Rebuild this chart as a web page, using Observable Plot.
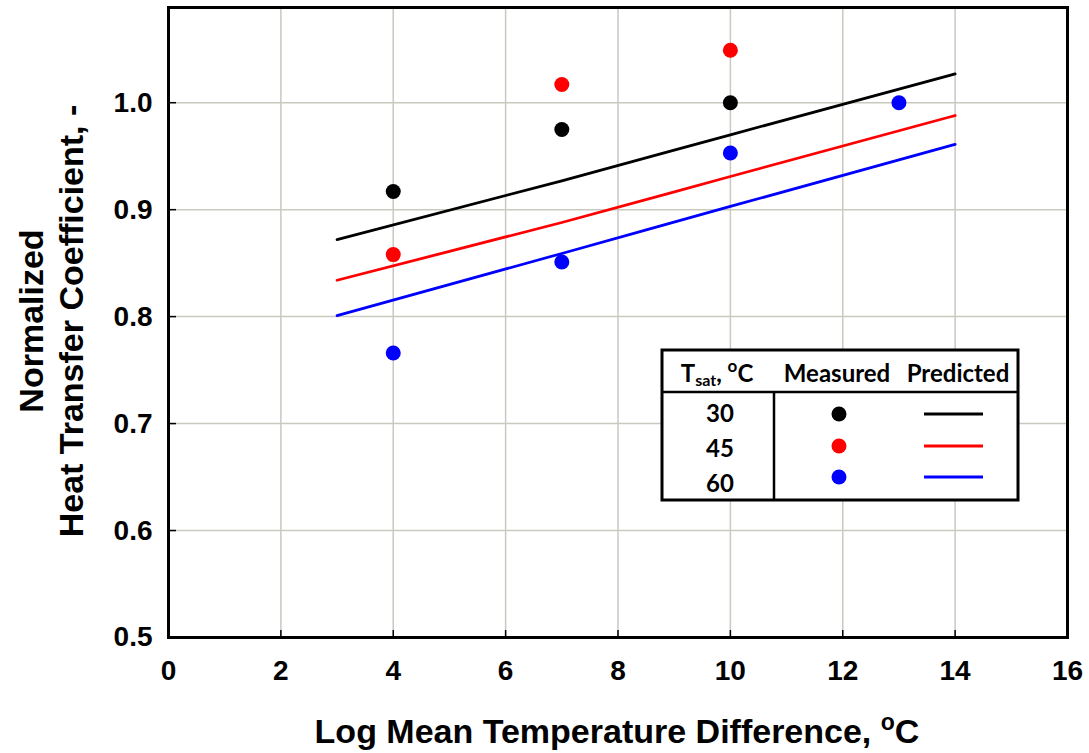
<!DOCTYPE html>
<html><head><meta charset="utf-8">
<script src="https://cdn.jsdelivr.net/npm/d3@7"></script>
<script src="https://cdn.jsdelivr.net/npm/@observablehq/plot@0.6"></script>
<style>
html,body{margin:0;padding:0;background:#fff;}
#chart{position:relative;width:1089px;height:753px;}
</style>
</head><body><div id="chart"></div>
<script>
// Data
const tsatLabels = ["30", "45", "60"];
const seriesColors = ["#000000", "#ff0000", "#0000ff"];
const lmtd30 = [4, 7, 10];
const h30 = [0.917, 0.975, 1.0];
const lmtd45 = [4, 7, 10];
const h45 = [0.858, 1.017, 1.049];
const lmtd60 = [4, 7, 10, 13];
const h60 = [0.766, 0.851, 0.953, 1.0];
const predX = [3, 7, 10, 14];
const pred30 = [0.872, 0.927, 0.970, 1.027];
const pred45 = [0.834, 0.888, 0.931, 0.988];
const pred60 = [0.801, 0.859, 0.903, 0.961];
const xTicks = [0, 2, 4, 6, 8, 10, 12, 14, 16];
const yTicks = [0.5, 0.6, 0.7, 0.8, 0.9, 1.0];

const measuredX = [lmtd30, lmtd45, lmtd60];
const measuredY = [h30, h45, h60];
const predY = [pred30, pred45, pred60];

const measured = [];
measuredX.forEach((xs, i) => xs.forEach((x, j) => measured.push({x, y: measuredY[i][j], s: tsatLabels[i]})));
const predicted = [];
predY.forEach((ys, i) => ys.forEach((y, j) => predicted.push({x: predX[j], y, s: tsatLabels[i]})));

const gridColor = "#c9c9c0";
const font = "'Liberation Sans', Arial, sans-serif";

const plot = Plot.plot({
  width: 1089,
  height: 753,
  marginLeft: 168,
  marginRight: 22,
  marginTop: 7,
  marginBottom: 116,
  style: {fontFamily: font, background: "#fff", overflow: "visible"},
  x: {domain: [0, 16]},
  y: {domain: [0.5, 1.089]},
  color: {domain: tsatLabels, range: seriesColors},
  marks: [
    Plot.gridX(xTicks.slice(1, -1), {stroke: gridColor, strokeOpacity: 1, strokeWidth: 1.5}),
    Plot.gridY(yTicks.slice(1), {stroke: gridColor, strokeOpacity: 1, strokeWidth: 1.5}),
    Plot.axisX(xTicks, {tickSize: -7, tickPadding: 30, fontSize: 28, fontWeight: "bold", fill: "#000", label: null, strokeWidth: 1.5}),
    Plot.axisY(yTicks, {tickSize: -8, tickPadding: 24, fontSize: 28, fontWeight: "bold", fill: "#000", label: null, strokeWidth: 1.5, tickFormat: d3.format(".1f")}),
    Plot.line(predicted, {x: "x", y: "y", z: "s", stroke: "s", strokeWidth: 2.8, curve: "monotone-x"}),
    Plot.dot(measured, {x: "x", y: "y", fill: "s", r: 7.5}),
    Plot.frame({stroke: "#000", strokeWidth: 3})
  ]
});
document.getElementById("chart").appendChild(plot);

const svg = d3.select(plot);
// Axis titles
const xt = svg.append("text").attr("x", 617).attr("y", 743)
  .attr("text-anchor", "middle").attr("font-family", font).attr("font-weight", "bold").attr("font-size", 34).attr("fill", "#000");
xt.append("tspan").text("Log Mean Temperature Difference, ");
xt.append("tspan").text("o").attr("font-size", 23).attr("dy", -13);
xt.append("tspan").text("C").attr("dy", 13);

const yt = svg.append("g").attr("transform", "translate(0,321) rotate(-90)");
yt.append("text").attr("x", 0).attr("y", 43).attr("text-anchor", "middle")
  .attr("font-family", font).attr("font-weight", "bold").attr("font-size", 34).text("Normalized");
yt.append("text").attr("x", 0).attr("y", 83).attr("text-anchor", "middle")
  .attr("font-family", font).attr("font-weight", "bold").attr("font-size", 34).text("Heat Transfer Coefficient, -");

// Legend table
const lf = "Lato, 'Open Sans', sans-serif";
const lg = svg.append("g");
lg.append("rect").attr("x", 662).attr("y", 350).attr("width", 356).attr("height", 150)
  .attr("fill", "#fff").attr("stroke", "#000").attr("stroke-width", 3);
lg.append("line").attr("x1", 662).attr("x2", 1018).attr("y1", 392).attr("y2", 392).attr("stroke", "#000").attr("stroke-width", 2.5);
lg.append("line").attr("x1", 774).attr("x2", 774).attr("y1", 392).attr("y2", 500).attr("stroke", "#000").attr("stroke-width", 2.5);
const hdr = lg.append("text").attr("x", 717).attr("y", 382).attr("text-anchor", "middle")
  .attr("font-family", lf).attr("font-weight", "bold").attr("font-size", 24);
hdr.append("tspan").text("T");
hdr.append("tspan").text("sat").attr("font-size", 16).attr("dy", 4);
hdr.append("tspan").text(", ").attr("dy", -4);
hdr.append("tspan").text("o").attr("font-size", 17).attr("dy", -10);
hdr.append("tspan").text("C").attr("dy", 10);
lg.append("text").attr("x", 837).attr("y", 382).attr("text-anchor", "middle")
  .attr("font-family", lf).attr("font-weight", "bold").attr("font-size", 24).text("Measured");
lg.append("text").attr("x", 958).attr("y", 382).attr("text-anchor", "middle")
  .attr("font-family", lf).attr("font-weight", "bold").attr("font-size", 24).text("Predicted");
const rowY = [414, 446, 477];
const numY = [422, 457, 492];
tsatLabels.forEach((t, i) => {
  lg.append("text").attr("x", 720).attr("y", numY[i]).attr("text-anchor", "middle")
    .attr("font-family", lf).attr("font-weight", "bold").attr("font-size", 24).text(t);
  lg.append("circle").attr("cx", 839).attr("cy", rowY[i]).attr("r", 7.5).attr("fill", seriesColors[i]);
  lg.append("line").attr("x1", 924).attr("x2", 983).attr("y1", rowY[i]).attr("y2", rowY[i])
    .attr("stroke", seriesColors[i]).attr("stroke-width", 2.8);
});
</script>
</body></html>
